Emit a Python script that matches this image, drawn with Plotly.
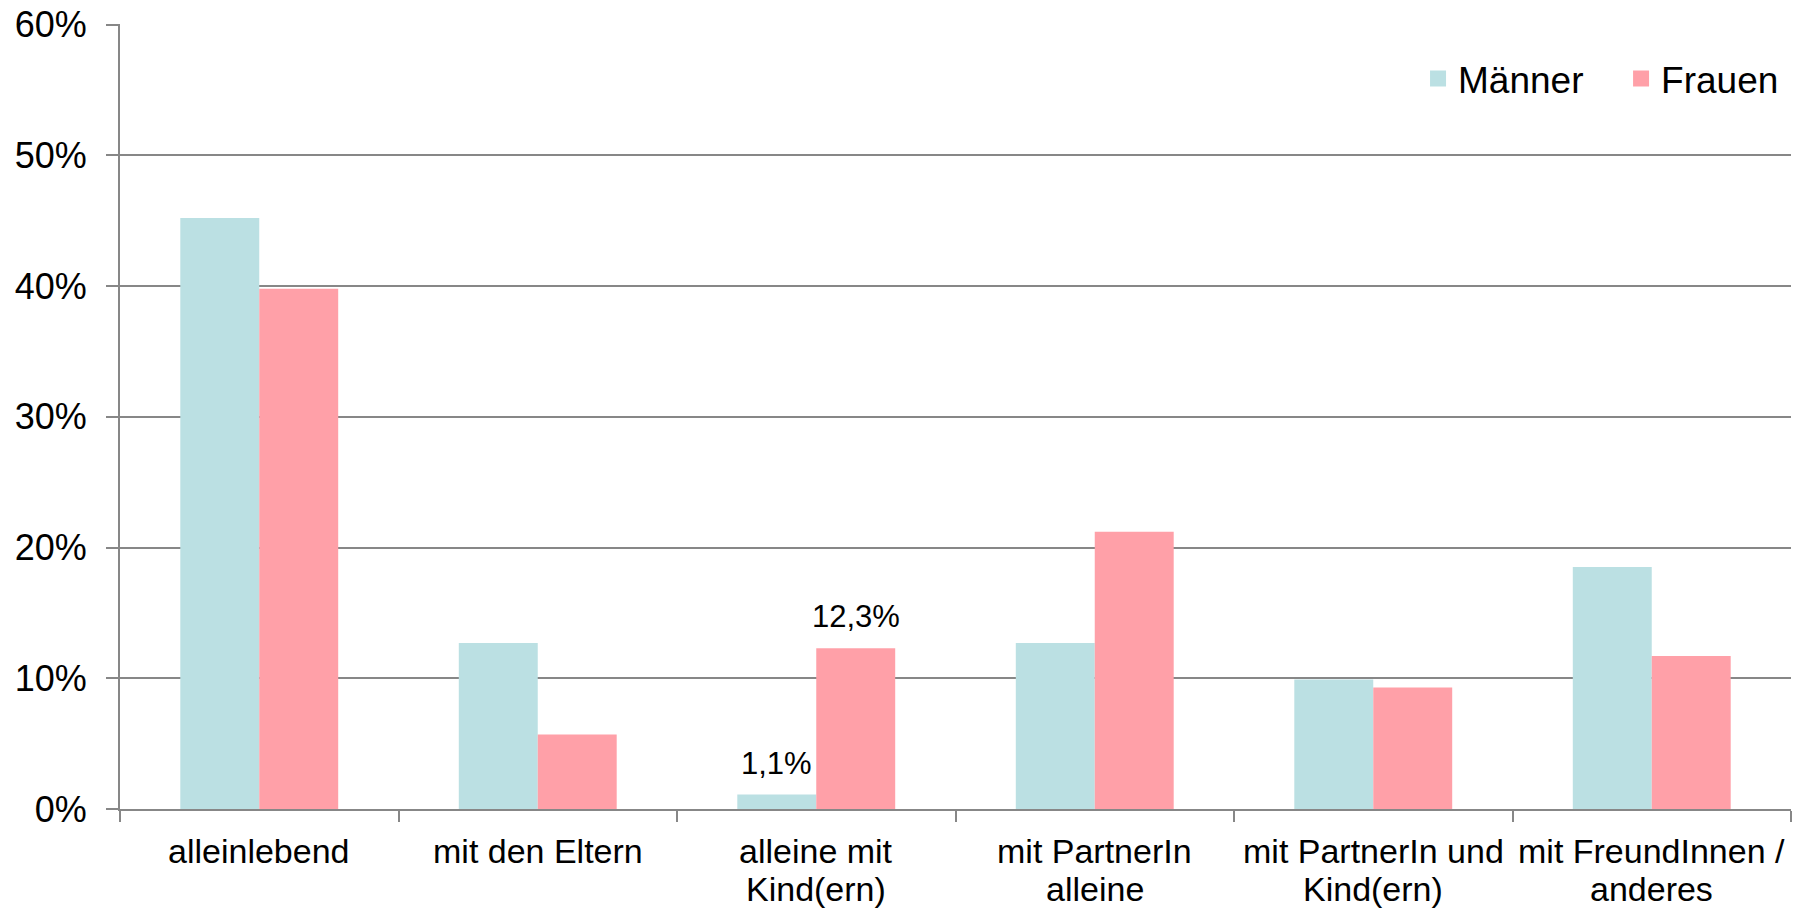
import plotly.graph_objects as go

categories = ["alleinlebend", "mit den Eltern", "alleine mit<br>Kind(ern)",
              "mit PartnerIn<br>alleine", "mit PartnerIn und<br>Kind(ern)",
              "mit FreundInnen /<br>anderes"]
maenner = [0.452, 0.127, 0.011, 0.127, 0.099, 0.185]
frauen = [0.398, 0.057, 0.123, 0.212, 0.093, 0.117]
y_ticks = [0.0, 0.1, 0.2, 0.3, 0.4, 0.5, 0.6]
y_ticktext = ["0%", "10%", "20%", "30%", "40%", "50%", "60%"]
labelled_index = 2  # category with value labels

FONT = "Liberation Sans, Arial, sans-serif"
GRID = "#878787"
C_M = "#BBE0E3"
C_F = "#FFA0A8"

xs = list(range(len(categories)))
fig = go.Figure()
fig.add_trace(go.Bar(name="Männer", x=xs, y=maenner, showlegend=False,
                     marker=dict(color=C_M, line=dict(width=0))))
fig.add_trace(go.Bar(name="Frauen", x=xs, y=frauen, showlegend=False,
                     marker=dict(color=C_F, line=dict(width=0))))
# legend entries with larger square swatches, one legend each
for name, col, lg in (("Männer", C_M, "legend"), ("Frauen", C_F, "legend2")):
    fig.add_trace(go.Scatter(name=name, x=[None], y=[None], mode="markers",
                             marker=dict(symbol="square", size=16, color=col),
                             showlegend=True, hoverinfo="skip", legend=lg))

bargap = 0.433
half = (1 - bargap) / 4
for val, off in ((maenner[labelled_index], -half), (frauen[labelled_index], half)):
    fig.add_annotation(x=labelled_index + off, y=val, xref="x", yref="y",
                       text=f"{val*100:.1f}%".replace(".", ","),
                       showarrow=False, yanchor="bottom", yshift=12,
                       font=dict(family=FONT, size=31, color="black"))

# category labels (two lines each, tighter spacing than plotly's default)
for i, cat in enumerate(categories):
    for j, line in enumerate(cat.split("<br>")):
        fig.add_annotation(x=i, y=0, xref="x", yref="paper", text=line,
                           showarrow=False, yanchor="middle", xanchor="center",
                           yshift=-42 - 38 * j,
                           font=dict(family=FONT, size=34, color="black"))

legend_common = dict(orientation="h", y=0.93, yanchor="middle", xanchor="left",
                     font=dict(family=FONT, size=37, color="black"),
                     bgcolor="rgba(0,0,0,0)", itemsizing="trace")
fig.update_layout(
    width=1806, height=908,
    barmode="group", bargap=bargap, bargroupgap=0,
    plot_bgcolor="white", paper_bgcolor="white",
    margin=dict(l=112, r=23, t=16, b=107),
    font=dict(family=FONT, size=34, color="black"),
    legend=dict(x=0.7768, **legend_common),
    legend2=dict(x=0.8983, **legend_common),
    showlegend=True,
)
fig.update_xaxes(
    type="linear", range=[-0.5, len(categories) - 0.5],
    showticklabels=False, ticks="", showline=True, linecolor=GRID, linewidth=2,
    showgrid=False, zeroline=False, automargin=False,
)
# boundary tick marks via minor ticks
fig.update_xaxes(minor=dict(tickmode="array",
                            tickvals=[i - 0.5 for i in range(len(categories) + 1)],
                            ticks="outside", ticklen=11, tickcolor=GRID, tickwidth=2,
                            showgrid=False))
fig.update_yaxes(
    range=[0, 0.6004], tickmode="array", tickvals=y_ticks, ticktext=y_ticktext,
    showgrid=True, gridcolor=GRID, gridwidth=2,
    showline=True, linecolor=GRID, linewidth=2,
    ticks="outside", ticklen=12, tickcolor=GRID, tickwidth=2,
    zeroline=False, automargin=False, ticklabelstandoff=12,
    ticklabeloverflow="allow",
    tickfont=dict(family=FONT, size=36, color="black"),
)

fig.write_html("out.html")
